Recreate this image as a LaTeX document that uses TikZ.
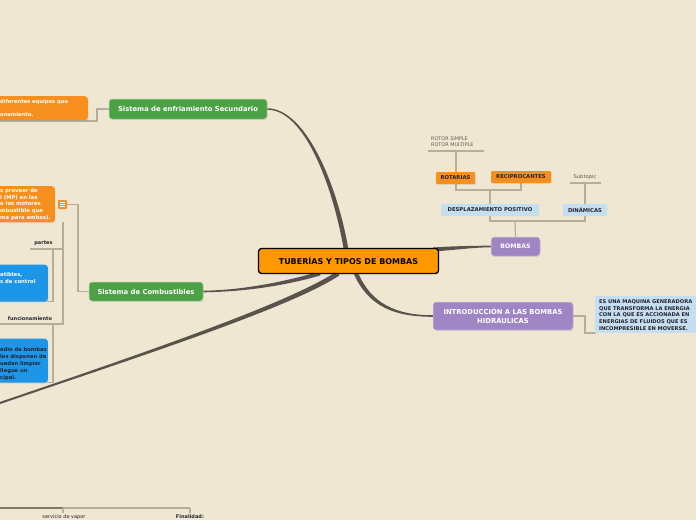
\documentclass[tikz,border=0pt]{standalone}
\usepackage{fontspec}
\setmainfont{DejaVu Sans}
\usetikzlibrary{calc,shadows}
\definecolor{bg}{RGB}{239,231,209}
\definecolor{mainc}{RGB}{88,84,76}
\definecolor{linec}{RGB}{182,174,154}
\definecolor{grn}{RGB}{76,161,70}
\definecolor{org}{RGB}{247,143,30}
\definecolor{ctr}{RGB}{255,152,0}
\definecolor{blu}{RGB}{30,150,232}
\definecolor{lblu}{RGB}{197,222,240}
\definecolor{pur}{RGB}{160,133,196}
\definecolor{txtd}{RGB}{35,35,45}
\definecolor{txtg}{RGB}{95,92,85}
\newcommand\taperline[6]{%
 \fill[mainc] ($(#1)!#5!90:(#2)$) .. controls ($(#2)!#5!90:(#3)$) and ($(#3)!#6!-90:(#2)$) .. ($(#4)!#6!-90:(#3)$)
 -- ($(#4)!#6!90:(#3)$) .. controls ($(#3)!#6!90:(#2)$) and ($(#2)!#5!-90:(#3)$) .. ($(#1)!#5!-90:(#2)$) -- cycle;}
\pgfdeclarelayer{back}
\pgfsetlayers{back,main}
\begin{document}
\begin{tikzpicture}[x=1pt,y=-1pt,
 conn/.style={draw=linec,line width=1.2pt},
 box/.style={rounded corners=3pt,inner sep=0pt,drop shadow={opacity=0.22,shadow xshift=0.6pt,shadow yshift=-0.9pt}},
 gbox/.style={box,fill=grn,draw=white!60!grn,line width=0.5pt,text=white,font=\fontsize{6.8}{8}\selectfont\bfseries},
 pbox/.style={box,fill=pur,draw=white!60!pur,line width=0.5pt,text=white,font=\fontsize{6.8}{8.6}\selectfont\bfseries,align=center},
 lbbox/.style={rounded corners=1pt,inner sep=0pt,fill=lblu,text=txtd,font=\fontsize{5.3}{6}\selectfont\bfseries},
 obox/.style={rounded corners=1pt,inner sep=0pt,fill=org,text=txtd,font=\fontsize{5.3}{6}\selectfont\bfseries,drop shadow={opacity=0.2,shadow xshift=0.5pt,shadow yshift=-0.6pt}},
 wtxt/.style={inner sep=0pt,anchor=west,text=white,font=\fontsize{5.2}{6.6}\selectfont\bfseries,align=left},
 dtxt/.style={inner sep=0pt,text=txtd,font=\fontsize{5}{6}\selectfont\bfseries},
 gtxt/.style={inner sep=0pt,text=txtg,font=\fontsize{4.9}{6}\selectfont}
]
\useasboundingbox (0,0) rectangle (696,520);

% ---------- main nodes ----------
\node[box,draw=black,line width=1.3pt,fill=ctr,minimum width=180pt,minimum height=25pt,font=\fontsize{8}{9.5}\selectfont\bfseries] (root) at (348.5,261) {TUBERÍAS Y TIPOS DE BOMBAS};

\coordinate (s1) at (346,249);
\coordinate (s2) at (433,249.5);
\coordinate (s3) at (356,273.5);
\coordinate (s4) at (320,273.5);
\coordinate (s5) at (338,273.5);
\coordinate (e5) at (-3,404);

\node[gbox,minimum width=158pt,minimum height=20pt] (enfr) at (188,109) {Sistema de enfriamiento Secundario};
\node[gbox,minimum width=114pt,minimum height=19pt] (comb) at (146,291.5) {Sistema de Combustibles};
\node[pbox,minimum width=49pt,minimum height=19pt,font=\fontsize{6.2}{7}\selectfont\bfseries] (bombas) at (515.5,246.5) {BOMBAS};
\node[pbox,minimum width=140pt,minimum height=28pt] (intro) at (503,316) {INTRODUCCIÓN A LAS BOMBAS\\HIDRÁULICAS};

\begin{pgfonlayer}{back}
\fill[bg] (0,0) rectangle (696,520);
\taperline{s1}{335,185}{305,109}{enfr.east}{2.3pt}{0.8pt}
\taperline{s2}{455,248}{475,246.5}{bombas.west}{2pt}{0.8pt}
\taperline{s3}{370,305}{395,316}{intro.west}{2.2pt}{0.8pt}
\taperline{s4}{280,285}{240,291}{comb.east}{2pt}{0.8pt}
\taperline{s5}{290,305}{150,352}{e5}{2.4pt}{1pt}

% ---------- connectors ----------
\coordinate (jb) at (515,221);
\coordinate (jd) at (490,190);
\coordinate (ru) at (456,151);
\coordinate (du) at (585,183);
\draw[conn] (bombas.north) -- (jb);
\draw[conn] (490,216) |- (jb) -| (585,216);
\draw[conn] (490,204) -- (jd);
\draw[conn] (456,184) |- (jd) -| (521,183);
\draw[conn] (456,172) -- (ru);
\draw[conn] (428,151) -- (484,151);
\draw[conn] (585,204) -- (du);
\draw[conn] (570,183) -- (601,183);
\draw[conn] (intro.east) -- (585,316) |- (596,333);

\draw[conn] (enfr.west) -- (97,109) |- (0,121);
\draw[conn] (comb.west) -- (78,291.5) |- (67,204.5);
\coordinate (v1) at (63,222);
\coordinate (v2) at (63,324);
\draw[conn] (v1) -- (v2) -- (0,324);
\draw[conn] (30,249) -- (63,249);
\draw[conn] (53,249) -- (53,301.5) -- (47,301.5);
\draw[conn] (53,324) -- (53,382.5) -- (47,382.5);
\draw[draw=mainc!60!linec,line width=1.3pt] (0,508) -- (63,508);
\draw[conn] (63,508) -- (190,508);
\draw[conn] (63,508) -- (63,513);
\draw[conn] (190,508) -- (190,513);
\end{pgfonlayer}

% ---------- right side ----------
\node[lbbox,minimum width=98pt,minimum height=12pt] (desp) at (490,210) {DESPLAZAMIENTO POSITIVO};
\node[lbbox,minimum width=44pt,minimum height=12pt] (din) at (585,210) {DINÁMICAS};
\node[obox,minimum width=39pt,minimum height=12pt] (rot) at (455.5,178) {ROTARIAS};
\node[obox,minimum width=60pt,minimum height=12pt] (rec) at (521,177) {RECIPROCANTES};
\node[gtxt,anchor=west,align=left,font=\fontsize{4.9}{6.3}\selectfont] (rotor) at (431,142) {ROTOR SIMPLE\\ROTOR MULTIPLE};
\node[gtxt,font=\fontsize{5.2}{6}\selectfont] (subt) at (585,177) {Subtopic};

\node[fill=lblu,inner sep=0pt,minimum width=106pt,minimum height=37pt,anchor=north west] (def) at (595,296) {};
\node[inner sep=0pt,anchor=north west,align=left,text=txtd,font=\fontsize{5.15}{6.8}\selectfont\bfseries] (deftxt) at (599,299.3) {ES UNA MAQUINA GENERADORA\\QUE TRANSFORMA LA ENERGIA\\CON LA QUE ES ACCIONADA EN\\ENERGIAS DE FLUIDOS QUE ES\\INCOMPRESIBLE EN MOVERSE.};

% ---------- left side ----------
\node[box,fill=org,minimum width=98pt,minimum height=24pt,anchor=north east] (otop) at (88,96) {};
\node[wtxt] (otop1) at (0,102.5) {diferentes equipos que};
\node[wtxt] (otop2) at (0,115) {onamiento.};

\node[box,fill=org,minimum width=65pt,minimum height=36pt,anchor=north east] (oleft) at (55,186) {};
\node[wtxt,anchor=north west,font=\fontsize{5.3}{6.6}\selectfont\bfseries] (oleftt) at (0,188.5) {s proveer de\\l (MP) en las\\o los motores\\mbustible que\\ma para ambos).};
\node[rounded corners=1.2pt,fill=org,inner sep=0pt,minimum size=9pt] (icon) at (62.5,204.5) {};
\foreach \dy in {-2,0,2} \draw[white,line width=0.6pt] ($(icon.center)+(-2.4,\dy)$) -- ++(4.8,0);

\node[dtxt] (partes) at (43.5,243.5) {partes};
\node[box,fill=blu,minimum width=58pt,minimum height=37pt,anchor=north east] (blue1) at (48,264.5) {};
\node[wtxt,anchor=north west,font=\fontsize{5.3}{7.6}\selectfont\bfseries] (blue1t) at (0,272) {atibles,\\s de control};

\node[dtxt] (func) at (30,319) {funcionamiento};
\node[box,fill=blu,minimum width=58pt,minimum height=44pt,anchor=north east] (blue2) at (48,338.5) {};
\node[wtxt,anchor=north west,text=txtd,font=\fontsize{5.2}{7}\selectfont\bfseries] (blue2t) at (0,347) {edio de bombas\\les disponen de\\uedan limpiar\\llegue un\\cipal.};

\node[gtxt,text=txtd,font=\fontsize{5}{6}\selectfont] (serv) at (64,517) {servicio de vapor};
\node[dtxt,font=\fontsize{5}{6}\selectfont\bfseries] (fin) at (190,517) {Finalidad:};
\end{tikzpicture}
\end{document}
